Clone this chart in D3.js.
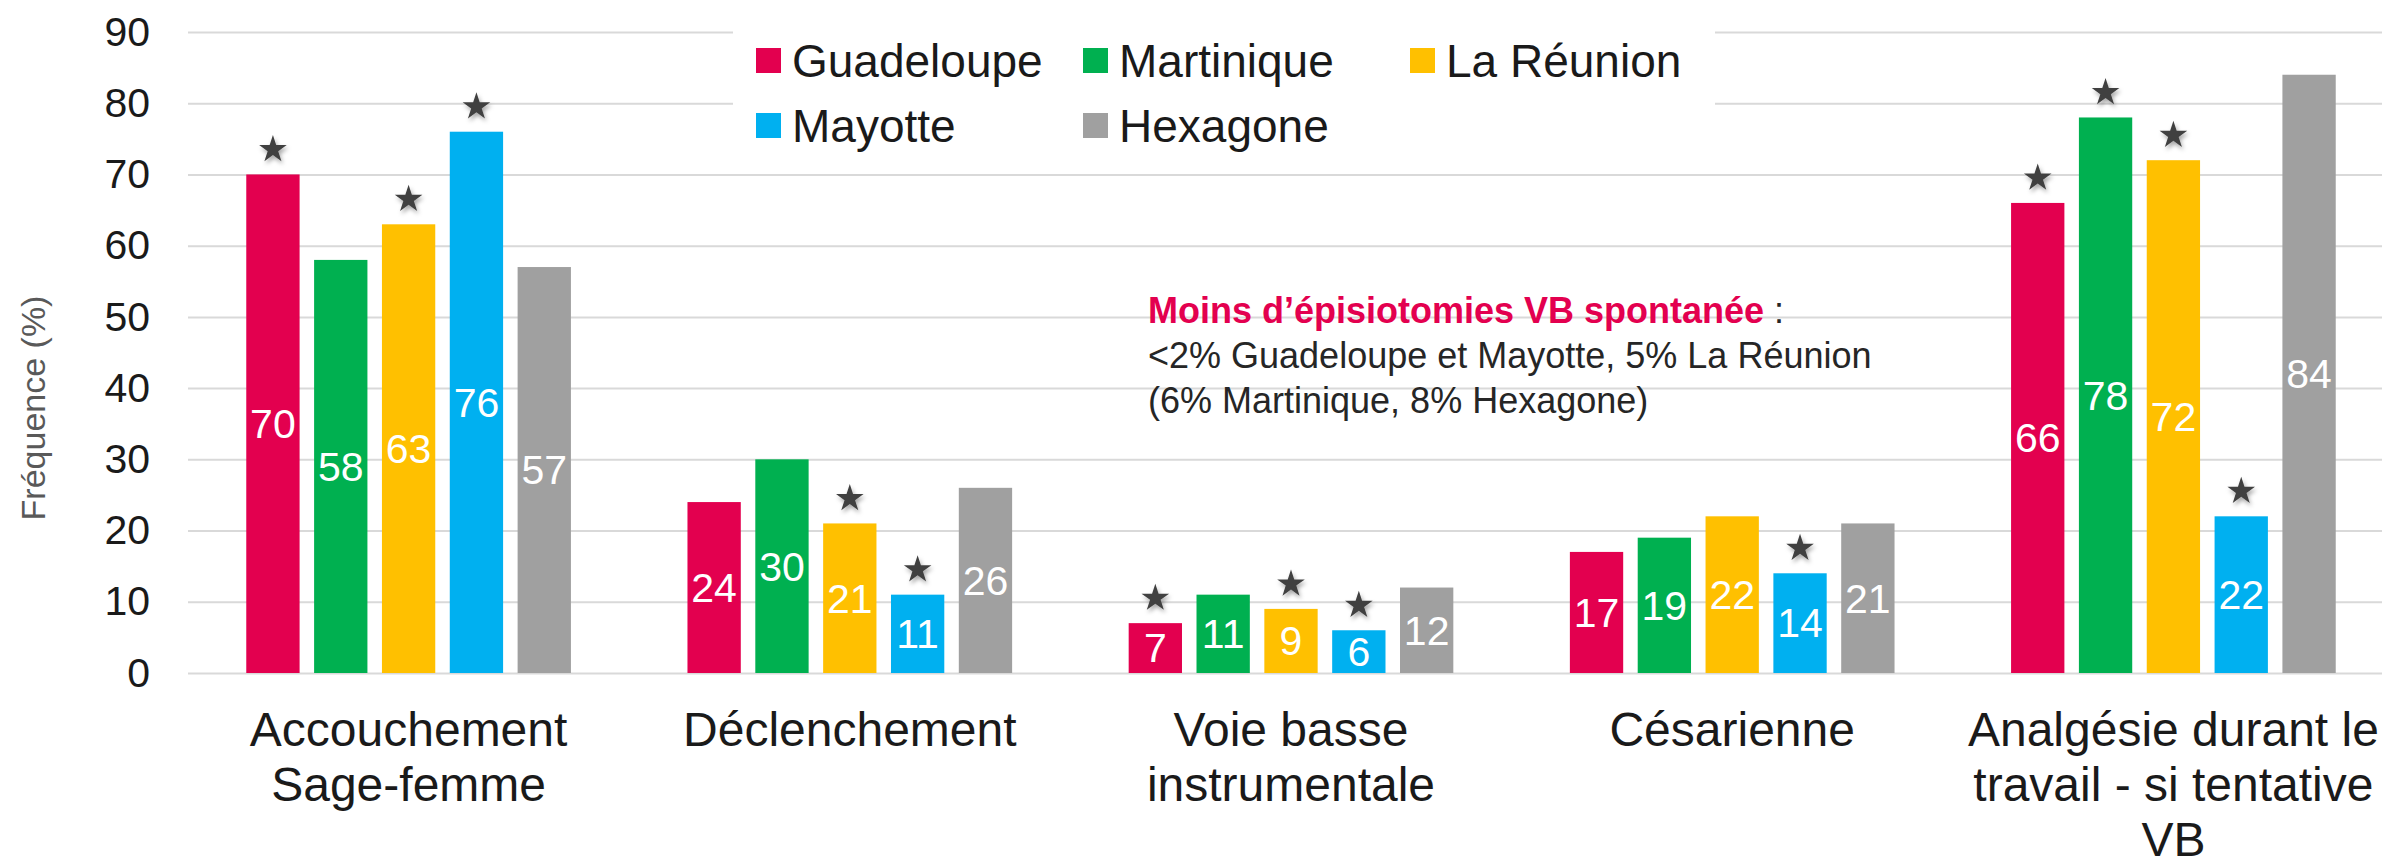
<!DOCTYPE html>
<html>
<head>
<meta charset="utf-8">
<script src="https://cdn.jsdelivr.net/npm/d3@7"></script>
<style>
  html, body { margin: 0; padding: 0; background: #fff; }
  svg { display: block; font-family: "Liberation Sans", Arial, sans-serif; }
</style>
</head>
<body>
<svg id="chart" width="2382" height="858"></svg>
<script>
// ---- data ----
const categories = [
  ["Accouchement", "Sage-femme"],
  ["Déclenchement"],
  ["Voie basse", "instrumentale"],
  ["Césarienne"],
  ["Analgésie durant le", "travail - si tentative", "VB"]
];
const series = ["Guadeloupe", "Martinique", "La Réunion", "Mayotte", "Hexagone"];
const colors = ["#E3004F", "#00B050", "#FFC000", "#00B0F0", "#A0A0A0"];
const guadeloupe = [70, 24, 7, 17, 66];
const martinique = [58, 30, 11, 19, 78];
const reunion    = [63, 21, 9, 22, 72];
const mayotte    = [76, 11, 6, 14, 22];
const hexagone   = [57, 26, 12, 21, 84];
// significance stars (series flagged per category)
const stars = [
  ["Guadeloupe", "La Réunion", "Mayotte"],
  ["La Réunion", "Mayotte"],
  ["Guadeloupe", "La Réunion", "Mayotte"],
  ["Mayotte"],
  ["Guadeloupe", "Martinique", "La Réunion", "Mayotte"]
];
const yTicks = [0, 10, 20, 30, 40, 50, 60, 70, 80, 90];
const yTitle = "Fréquence (%)";
const noteTitle = "Moins d’épisiotomies VB spontanée";
const noteLines = ["<2% Guadeloupe et Mayotte, 5% La Réunion", "(6% Martinique, 8% Hexagone)"];

const values = [guadeloupe, martinique, reunion, mayotte, hexagone];
const rows = categories.map((c, i) => ({
  key: i, label: c,
  bars: series.map((s, j) => ({ series: s, value: values[j][i], color: colors[j], star: stars[i].includes(s) }))
}));

// ---- layout ----
const svg = d3.select("#chart");
const x0 = d3.scaleBand().domain(rows.map(r => r.key)).range([188, 2394]).padding(0);
const x1 = d3.scaleBand().domain(series).range([0, x0.bandwidth()]).paddingInner(0.214).paddingOuter(0.859);
const y = d3.scaleLinear().domain([0, 90]).range([673, 32]);

const defs = svg.append("defs");
const f = defs.append("filter").attr("id", "shadow").attr("x", "-50%").attr("y", "-50%").attr("width", "200%").attr("height", "200%");
f.append("feDropShadow").attr("dx", 1.5).attr("dy", 3).attr("stdDeviation", 2).attr("flood-color", "#000").attr("flood-opacity", 0.35);

// gridlines
const yAxis = d3.axisLeft(y).tickValues(yTicks).tickSize(-(2382 - 188)).tickPadding(38).tickFormat(d3.format("d"));
const ga = svg.append("g").attr("transform", "translate(188,0)").call(yAxis);
ga.select(".domain").remove();
ga.selectAll(".tick line").attr("stroke", "#D9D9D9").attr("stroke-width", 2);
ga.selectAll(".tick text").attr("fill", "#1a1a1a").attr("font-size", 41).attr("font-family", "Liberation Sans, Arial, sans-serif");

// y title
svg.append("text")
  .attr("transform", "translate(45,408) rotate(-90)")
  .attr("text-anchor", "middle")
  .attr("fill", "#595959").attr("font-size", 34)
  .text(yTitle);

// legend background
svg.append("rect").attr("x", 733).attr("y", 12).attr("width", 982).attr("height", 138).attr("fill", "#fff");

// bars
const groups = svg.append("g").selectAll("g").data(rows).join("g")
  .attr("transform", d => `translate(${x0(d.key)},0)`);
groups.selectAll("rect").data(d => d.bars).join("rect")
  .attr("x", d => x1(d.series)).attr("width", x1.bandwidth())
  .attr("y", d => y(d.value)).attr("height", d => y(0) - y(d.value))
  .attr("fill", d => d.color);
groups.selectAll("text.val").data(d => d.bars).join("text").attr("class", "val")
  .attr("x", d => x1(d.series) + x1.bandwidth() / 2)
  .attr("y", d => (y(d.value) + y(0)) / 2)
  .attr("dy", "0.35em")
  .attr("text-anchor", "middle").attr("fill", "#fff").attr("font-size", 41)
  .text(d => d.value);
groups.selectAll("path.star").data(d => d.bars.filter(b => b.star)).join("path").attr("class", "star")
  .attr("d", d3.symbol(d3.symbolStar, 236))
  .attr("transform", d => `translate(${x1(d.series) + x1.bandwidth() / 2},${y(d.value) - 25})`)
  .attr("fill", "#404040").attr("filter", "url(#shadow)");

// category labels
const cl = svg.append("g").selectAll("text").data(rows).join("text")
  .attr("text-anchor", "middle").attr("fill", "#1a1a1a").attr("font-size", 48)
  .attr("x", d => x0(d.key) + x0.bandwidth() / 2).attr("y", 746);
cl.selectAll("tspan").data(d => d.label).join("tspan")
  .attr("x", function () { return d3.select(this.parentNode).attr("x"); })
  .attr("dy", (d, i) => i === 0 ? 0 : 55)
  .text(d => d);

// legend
const legPos = [[756, 60.5], [1083, 60.5], [1410, 60.5], [756, 125.5], [1083, 125.5]];
const leg = svg.append("g").selectAll("g").data(series).join("g")
  .attr("transform", (d, i) => `translate(${legPos[i][0]},${legPos[i][1]})`);
leg.append("rect").attr("x", 0).attr("y", -12.5).attr("width", 25).attr("height", 25).attr("fill", (d, i) => colors[i]);
leg.append("text").attr("x", 36).attr("y", 16).attr("font-size", 46).attr("fill", "#1a1a1a").text(d => d);

// annotation
const note = svg.append("text").attr("x", 1148).attr("y", 323).attr("font-size", 36).attr("fill", "#262626");
note.append("tspan").attr("font-weight", "bold").attr("fill", "#E3004F").text(noteTitle);
note.append("tspan").text(" :");
noteLines.forEach((t, i) => {
  svg.append("text").attr("x", 1148).attr("y", 368 + i * 44.5).attr("font-size", 36).attr("fill", "#262626").text(t);
});
</script>
</body>
</html>
